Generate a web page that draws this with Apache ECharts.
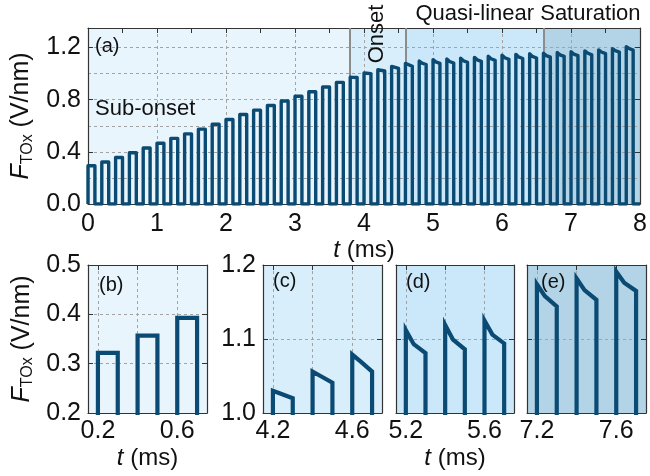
<!DOCTYPE html>
<html>
<head>
<meta charset="utf-8">
<script src="https://cdn.jsdelivr.net/npm/echarts@6/dist/echarts.min.js"></script>
<style>
html,body{margin:0;padding:0;background:#fff;}
#chart{width:650px;height:476px;}
</style>
</head>
<body>
<div id="chart"></div>
<script>
/* pulse train: start time (ms) and field at start, bend, end of each pulse (V/nm) */
var pulseStart = [0.0,0.2,0.4,0.6,0.8,1.0,1.2,1.4,1.6,1.8,2.0,2.2,2.4,2.6,2.8,3.0,3.2,3.4,3.6,3.8,4.0,4.2,4.4,4.6,4.8,5.0,5.2,5.4,5.6,5.8,6.0,6.2,6.4,6.6,6.8,7.0,7.2,7.4,7.6,7.8];
var pulsePeak = [0.293,0.322,0.357,0.393,0.429,0.466,0.503,0.538,0.574,0.612,0.648,0.686,0.720,0.756,0.790,0.826,0.861,0.898,0.933,
                 0.972,1.005,1.030,1.056,1.079,1.097,1.107,1.112,1.119,1.125,1.134,1.142,1.148,1.152,1.157,1.162,1.168,1.174,1.182,1.191,1.207];
var pulseKnee = [0.293,0.322,0.357,0.393,0.429,0.466,0.503,0.538,0.574,0.612,0.648,0.686,0.720,0.756,0.790,0.826,0.861,0.898,0.933,
                 0.971,1.003,1.026,1.050,1.070,1.081,1.090,1.093,1.099,1.106,1.114,1.122,1.128,1.132,1.138,1.144,1.150,1.158,1.166,1.176,1.193];
var pulseEnd  = [0.293,0.322,0.357,0.393,0.429,0.466,0.503,0.538,0.574,0.612,0.648,0.686,0.720,0.756,0.790,0.826,0.861,0.898,0.933,
                 0.970,1.000,1.020,1.041,1.056,1.070,1.078,1.081,1.086,1.094,1.102,1.110,1.116,1.120,1.126,1.132,1.138,1.144,1.153,1.165,1.180];
var pulseOn = 0.1, kneeAt = 0.04, traceEnd = 8;

/* regimes */
var regionEdges = [0, 3.8, 4.6, 6.6, 8];
var regionNames = ['Sub-onset', 'Onset', 'Quasi-linear Saturation'];

/* axes */
var mainXTicks = [0, 8, 1];
var mainYTicks = [0, 1.35, 0.4];
var insetRange  = [[0.15,0.75],[4.15,4.75],[5.15,5.75],[7.15,7.75]];
var insetTicks  = [[0.2,0.4,0.6],[4.2,4.4,4.6],[5.2,5.4,5.6],[7.2,7.4,7.6]];
var insetLabels = [[0.2,0.6],[4.2,4.6],[5.2,5.6],[7.2,7.6]];
var insetY      = [[0.2,0.5],[1.0,1.2],[1.0,1.2],[1.0,1.2]];
var panelTags   = ['(a)','(b)','(c)','(d)','(e)'];

var fill = ['#e9f5fd','#d9eefb','#cbe8fb','#b3d4e6'];
var navy = '#0b4a72';
var frame = '#333';
var ff = '"Liberation Sans", Arial, sans-serif';
var dash = {color:'#a3a3a3', type:[3,3], width:1};

var trace = [[0,0]];
for (var i = 0; i < pulseStart.length; i++) {
	var t = pulseStart[i];
	trace.push([t,0],[t,pulsePeak[i]],[t+kneeAt,pulseKnee[i]],[t+pulseOn,pulseEnd[i]],[t+pulseOn,0]);
}
trace.push([traceEnd,0]);

var fmt1 = function(v){ return (+v).toFixed(1); };
var tName = '{i|t}{n| (ms)}';
var tRich = {i:{fontStyle:'italic',fontSize:24,fontFamily:ff,color:'#111'}, n:{fontSize:24,fontFamily:ff,color:'#111'}};
var fName = '{i|F}{s|TOx}{n| (V/nm)}';
var fRich = {i:{fontStyle:'italic',fontSize:25,fontFamily:ff,color:'#111'},
	s:{fontSize:16,fontFamily:ff,color:'#111',padding:[12,0,0,0]},
	n:{fontSize:25,fontFamily:ff,color:'#111'}};

var grids = [
	{left:88, top:28, width:557, height:176},
	{left:88, top:265, width:119, height:148, show:true, borderWidth:0, backgroundColor:fill[0]},
	{left:263, top:265, width:119, height:148, show:true, borderWidth:0, backgroundColor:fill[1]},
	{left:396, top:265, width:118, height:148, show:true, borderWidth:0, backgroundColor:fill[2]},
	{left:527, top:265, width:119, height:148, show:true, borderWidth:0, backgroundColor:fill[3]}
];

var line = {show:true, onZero:false, lineStyle:{color:frame, width:1.2}};
var tick = {show:true, inside:true, length:5, lineStyle:{color:frame}};
var labSize = 25;

var xAxis = [], yAxis = [], series = [];

// (a)
xAxis.push({gridIndex:0, type:'value', min:mainXTicks[0], max:mainXTicks[1], interval:mainXTicks[2],
	axisLine:line, axisTick:tick, minorTick:{show:true, splitNumber:2, length:5, lineStyle:{color:frame}},
	axisLabel:{fontSize:labSize, color:'#111', fontFamily:ff, margin:8},
	splitLine:{show:true, lineStyle:dash},
	name:tName, nameLocation:'middle', nameGap:28, nameTextStyle:{rich:tRich}});
xAxis.push({gridIndex:0, type:'value', position:'top', min:mainXTicks[0], max:mainXTicks[1], interval:mainXTicks[2],
	axisLine:line, axisTick:tick, minorTick:{show:true, splitNumber:2, length:5, lineStyle:{color:frame}},
	axisLabel:{show:false}, splitLine:{show:false}});
yAxis.push({gridIndex:0, type:'value', min:mainYTicks[0], max:mainYTicks[1], interval:mainYTicks[2],
	axisLine:line, axisTick:tick, axisLabel:{fontSize:labSize, color:'#111', fontFamily:ff, margin:7, formatter:fmt1, showMaxLabel:false},
	splitLine:{show:false},
	name:fName, nameLocation:'middle', nameGap:52, nameTextStyle:{rich:fRich}});
yAxis.push({gridIndex:0, type:'value', position:'right', min:mainYTicks[0], max:mainYTicks[1], interval:mainYTicks[2],
	axisLine:line, axisTick:tick, axisLabel:{show:false}, splitLine:{show:false}});

// (b)-(e)
for (var k = 0; k < 4; k++) {
	var g = k + 1;
	xAxis.push({gridIndex:g, type:'value', min:insetRange[k][0], max:insetRange[k][1],
		axisLine:line, axisTick:{show:true, inside:true, length:5, lineStyle:{color:frame}, customValues:insetTicks[k]},
		axisLabel:{fontSize:labSize, color:'#111', fontFamily:ff, margin:6, formatter:fmt1, customValues:insetLabels[k]},
		splitLine:{show:true, lineStyle:dash},
		name:(k == 0 || k == 2) ? tName : '', nameLocation:'middle', nameGap:33, nameTextStyle:{rich:tRich}});
	xAxis.push({gridIndex:g, type:'value', position:'top', min:insetRange[k][0], max:insetRange[k][1],
		axisLine:line, axisTick:{show:true, inside:true, length:5, lineStyle:{color:frame}, customValues:insetTicks[k]},
		axisLabel:{show:false}, splitLine:{show:false}});
	yAxis.push({gridIndex:g, type:'value', min:insetY[k][0], max:insetY[k][1], interval:0.1,
		axisLine:line, axisTick:tick,
		axisLabel:{show:k < 2, fontSize:labSize, color:'#111', fontFamily:ff, margin:7, formatter:fmt1},
		splitLine:{show:true, lineStyle:dash},
		name:k == 0 ? fName : '', nameLocation:'middle', nameGap:52, nameTextStyle:{rich:fRich}});
	yAxis.push({gridIndex:g, type:'value', position:'right', min:insetY[k][0], max:insetY[k][1], interval:0.1,
		axisLine:line, axisTick:tick, axisLabel:{show:false}, splitLine:{show:false}});
}
// dashed grid every 0.2 in (a)
yAxis.push({gridIndex:0, type:'value', position:'left', min:mainYTicks[0], max:mainYTicks[1], interval:0.2,
	axisLine:{show:false}, axisTick:{show:false}, axisLabel:{show:false}, splitLine:{show:true, lineStyle:dash}});

var areas = [];
for (var r = 0; r < 4; r++) {
	areas.push([{xAxis:regionEdges[r], itemStyle:{color:fill[r]}}, {xAxis:regionEdges[r+1]}]);
}

series.push({type:'line', xAxisIndex:0, yAxisIndex:0, data:trace, symbol:'none', z:3,
	lineStyle:{color:navy, width:3.4, join:'round'},
	markArea:{silent:true, z:-1, data:areas},
	markLine:{silent:true, z:1, symbol:'none', label:{show:false},
		lineStyle:{color:'#8c8c8c', width:2, type:'solid'},
		data:[{xAxis:regionEdges[1]},{xAxis:regionEdges[2]},{xAxis:regionEdges[3]}]}});
for (var s = 0; s < 4; s++) {
	series.push({type:'line', xAxisIndex:2*(s+1), yAxisIndex:2*(s+1), data:trace, symbol:'none', z:3,
		lineStyle:{color:navy, width:4.2, join:'miter'}});
}

function note(txt, x, y, size, align, rot) {
	return {type:'text', x:x, y:y, rotation:rot || 0, z:50,
		style:{text:txt, font:size + 'px ' + ff, fill:'#111', align:align, verticalAlign:'middle'}};
}

var myChart = echarts.init(document.getElementById('chart'), null, {renderer:'canvas'});
myChart.setOption({
	animation:false,
	grid:grids,
	xAxis:xAxis,
	yAxis:yAxis,
	series:series,
	graphic:[
		note(panelTags[0], 95, 46, 20, 'left'),
		note(regionNames[0], 95, 109, 22, 'left'),
		note(regionNames[1], 377, 34, 22, 'center', Math.PI/2),
		note(regionNames[2], 528, 14, 22, 'center'),
		note(panelTags[1], 99, 285, 20, 'left'),
		note(panelTags[2], 273, 281, 20, 'left'),
		note(panelTags[3], 406, 282, 20, 'left'),
		note(panelTags[4], 541, 282, 20, 'left')
	]
});
</script>
</body>
</html>
